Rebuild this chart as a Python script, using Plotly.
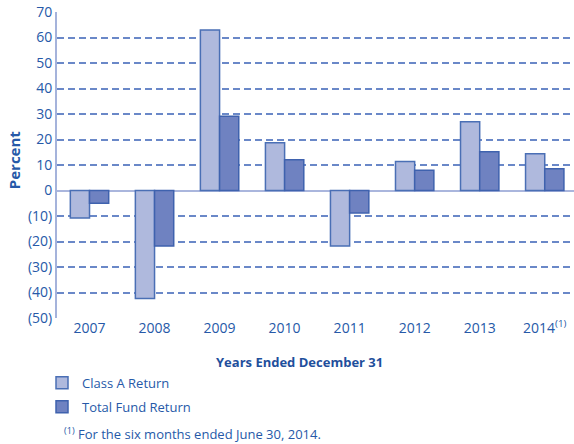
import plotly.graph_objects as go

years = ["2007", "2008", "2009", "2010", "2011", "2012", "2013", "2014"]
year_labels = ["2007", "2008", "2009", "2010", "2011", "2012", "2013", "2014<sup>(1)</sup>"]
class_a = [-10.8, -42.4, 62.9, 18.7, -21.8, 11.4, 27.0, 14.4]
total_fund = [-5.0, -21.8, 29.1, 12.1, -8.8, 7.9, 15.2, 8.5]
y_ticks = [70, 60, 50, 40, 30, 20, 10, 0, -10, -20, -30, -40, -50]
y_labels = ["70", "60", "50", "40", "30", "20", "10", "0", "(10)", "(20)", "(30)", "(40)", "(50)"]

TXT = "#2659a8"
FONT = "Open Sans"

fig = go.Figure()
fig.add_trace(go.Bar(
    x=list(range(len(years))), y=class_a, name="Class A Return", legendgroup="a",
    marker=dict(color="#afb9dd", line=dict(color="#4a6fb5", width=1.5)),
))
fig.add_trace(go.Bar(
    x=list(range(len(years))), y=total_fund, name="Total Fund Return", legendgroup="b",
    marker=dict(color="#6f82c1", line=dict(color="#3f62ae", width=1.5)),
))

fig.update_layout(
    width=574, height=444,
    margin=dict(l=57, r=0, t=12, b=126),
    plot_bgcolor="white", paper_bgcolor="white",
    barmode="group", bargap=0.41, bargroupgap=0,
    font=dict(family=FONT, size=13, color=TXT),
    showlegend=True,
    legend=dict(
        x=-0.029, xanchor="left", y=-0.163, yanchor="top",
        orientation="v", font=dict(family=FONT, size=13, color=TXT),
        itemwidth=30, tracegroupgap=4, bgcolor="rgba(0,0,0,0)",
    ),
)
fig.update_xaxes(
    range=[-0.5, 7.45], tickmode="array", automargin=False,
    tickvals=list(range(len(years))), ticktext=year_labels,
    showgrid=False, zeroline=False, showline=False, ticks="",
    tickfont=dict(family=FONT, size=14, color=TXT),
)
fig.update_yaxes(
    range=[-50, 70], tickmode="array", tickvals=y_ticks, ticktext=y_labels,
    automargin=False,
    showgrid=True, gridcolor="#6a88c8", gridwidth=1.5, griddash="7px,4px",
    zeroline=True, zerolinecolor="#aab6dd", zerolinewidth=1.5,
    showline=True, linecolor="#a5b3db", linewidth=2,
    ticks="", tickfont=dict(family=FONT, size=14, color=TXT),
)
fig.add_annotation(
    text="<b>Percent</b>", xref="paper", yref="paper", textangle=-90,
    x=-0.083, y=0.516, xanchor="center", yanchor="middle", showarrow=False,
    font=dict(family=FONT, size=15, color=TXT),
)
fig.add_annotation(
    text="<b>Years Ended December 31</b>", xref="paper", yref="paper",
    x=0.47, y=-0.108, xanchor="center", yanchor="top", showarrow=False,
    font=dict(family=FONT, size=13, color="#1f4f9c"),
)
fig.add_annotation(
    text="<sup>(1)</sup> For the six months ended June 30, 2014.", xref="paper", yref="paper",
    x=0.01, y=-0.415, xanchor="left", yanchor="bottom", showarrow=False,
    font=dict(family=FONT, size=13, color=TXT),
)
fig.write_html(
    "out.html",
    config={"displayModeBar": False},
    post_script="document.body.style.margin='0';document.body.style.overflow='hidden';",
)
